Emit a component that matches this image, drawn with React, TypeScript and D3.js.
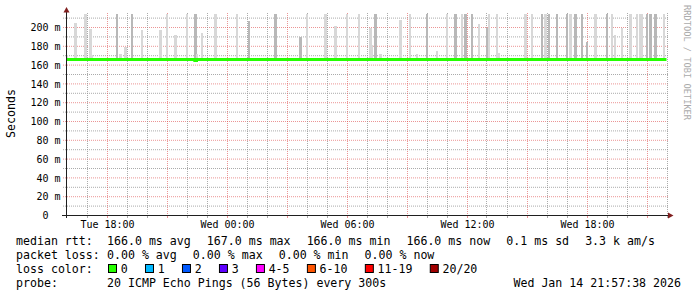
import React from "react";
import * as d3 from "d3";

// ---- data ----
const startTime = Date.UTC(2026, 0, 13, 16, 0, 0);
const spanHours = 30;
const stepMinutes = 5;
const stepCount = 360;

// smoke spikes (5-minute step index, highest ping in ms, shade)
const smokeStep = [0, 5, 11, 14, 15, 30, 32, 35, 39, 45, 56, 60, 65, 72, 77, 78, 81, 89, 102, 109, 125, 140, 144, 155, 161, 168, 175, 182, 183, 185, 188, 200, 206, 210, 216, 222, 228, 233, 237, 239, 243, 247, 252, 253, 258, 259, 275, 279, 285, 287, 289, 294, 300, 302, 305, 309, 312, 317, 324, 327, 329, 333, 338, 342, 344, 345, 348, 350, 353, 358];
const smokeTop = [171, 205, 215, 198, 171, 215, 172, 179, 215, 197, 197, 215, 192, 215, 215, 172, 194, 215, 215, 207, 215, 190, 215, 215, 202, 215, 215, 200, 181, 215, 172, 208, 215, 172, 215, 175, 215, 215, 215, 215, 215, 204, 200, 215, 215, 173, 215, 215, 215, 215, 215, 215, 215, 215, 215, 215, 185, 215, 215, 215, 192, 200, 215, 215, 215, 215, 215, 215, 215, 215];
const smokeShade = ["l", "l", "l", "l", "l", "d", "l", "l", "d", "l", "l", "l", "l", "l", "d", "l", "l", "l", "l", "d", "d", "d", "l", "l", "l", "l", "l", "l", "l", "d", "l", "l", "l", "l", "d", "l", "l", "d", "l", "d", "d", "l", "d", "l", "l", "l", "l", "l", "d", "l", "d", "d", "d", "l", "d", "d", "d", "l", "d", "l", "l", "l", "l", "l", "l", "l", "d", "d", "d", "l"];
const smokeBase = 166;

// median rtt in runs (start step, value ms)
const medianRunStart = [0, 77, 78];
const medianRunValue = [166.0, 165.0, 166.0];

const yTicks = [0, 20, 40, 60, 80, 100, 120, 140, 160, 180, 200];
const yMinor = [10, 30, 50, 70, 90, 110, 130, 150, 170, 190, 210];

const rttLabel = "median rtt:";
const rttItems = ["166.0 ms avg", "167.0 ms max", "166.0 ms min", "166.0 ms now", "0.1 ms sd", "3.3 k am/s"];
const lossLabel = "packet loss:";
const lossItems = ["0.00 % avg", "0.00 % max", "0.00 % min", "0.00 % now"];
const colorLabel = "loss color:";
const lossColorNames = ["0", "1", "2", "3", "4-5", "6-10", "11-19", "20/20"];
const lossColorValues = ["#26ff00", "#00b8ff", "#0059ff", "#5e00ff", "#ff00ff", "#ff5500", "#ff0000", "#a10000"];
const probeLabel = "probe:";
const probeText = "20 ICMP Echo Pings (56 Bytes) every 300s";
const dateText = "Wed Jan 14 21:57:38 2026";
const yTitle = "Seconds";
const watermark = "RRDTOOL / TOBI OETIKER";

// ---- layout ----
const W = 697, H = 297;
const plotLeft = 66.5, plotRight = 666.5, plotTop = 14, plotBottom = 215.5;
const mono = "'DejaVu Sans Mono', monospace";
const legendSize = 11.6;
const charW = 6.985;
const col2 = 107;
const gap = 16;

export default function App() {
  const endTime = startTime + spanHours * 3600 * 1000;
  const x = d3.scaleUtc().domain([new Date(startTime), new Date(endTime)]).range([plotLeft, plotRight]);
  const y = d3.scaleLinear().domain([0, 200]).range([plotBottom, 27.5]);
  const stepMs = stepMinutes * 60 * 1000;
  const tAt = (i: number) => new Date(startTime + i * stepMs);

  const hours = d3.utcHour.range(new Date(startTime + 1), new Date(endTime + 1));
  const fmt = d3.utcFormat("%a %H:%M");

  const medianPts: [number, number][] = [];
  for (let i = 0; i <= stepCount; i++) {
    let v = medianRunValue[0];
    for (let r = 0; r < medianRunStart.length; r++) if (i >= medianRunStart[r]) v = medianRunValue[r];
    medianPts.push([x(tAt(i)), y(v)]);
  }
  const medianPath = d3.line().curve(d3.curveStepAfter)(medianPts) || "";

  const gridColor = "rgba(143,143,143,0.75)";
  const mgridColor = "rgba(222,79,79,0.6)";
  const axisColor = "rgb(31,31,31)";
  const arrowColor = "rgb(128,31,31)";

  const itemsX = (start: number, items: string[], extra = 0) => {
    const xs: number[] = [];
    let cx = start;
    for (const it of items) {
      xs.push(cx);
      cx += extra + it.length * charW + gap;
    }
    return xs;
  };
  const rttX = itemsX(col2, rttItems);
  const lossX = itemsX(col2, lossItems);
  const colX = itemsX(col2, lossColorNames, 14);

  return (
    <svg width={W} height={H} style={{ position: "absolute", left: 0, top: 0, background: "#fff" }}>
      <defs>
        <clipPath id="plotclip">
          <rect x={plotLeft} y={plotTop} width={plotRight - plotLeft + 1} height={plotBottom - plotTop} />
        </clipPath>
      </defs>
      <rect width={W} height={H} fill="#fff" />

      {yMinor.map((v) => (
        <line key={"hm" + v} x1={63} x2={669} y1={y(v)} y2={y(v)} stroke={gridColor} strokeDasharray="1,1" />
      ))}
      {yTicks.filter((v) => v > 0).map((v) => (
        <line key={"hM" + v} x1={63} x2={669} y1={y(v)} y2={y(v)} stroke={mgridColor} strokeDasharray="1,1" />
      ))}
      {hours.map((h) => {
        const hx = Math.round(x(h)) + 0.5;
        const major = h.getUTCHours() % 3 === 0;
        return (
          <g key={"v" + h.getTime()}>
            <line x1={hx} x2={hx} y1={13} y2={215} stroke={major ? mgridColor : gridColor} strokeDasharray="1,1" />
            <line x1={hx} x2={hx} y1={216} y2={218} stroke={major ? mgridColor : gridColor} />
          </g>
        );
      })}

      <g clipPath="url(#plotclip)">
        {smokeStep.map((s, k) => {
          const x0 = Math.floor(x(tAt(s)));
          const x1 = Math.max(x0 + 2, Math.round(x(tAt(s + 1))));
          const yt = Math.round(y(smokeTop[k]));
          const yb = y(smokeBase);
          return (
            <rect key={"s" + k} x={x0} width={x1 - x0} y={yt} height={yb - yt} shapeRendering="crispEdges"
              fill={smokeShade[k] === "d" ? "#b8b8b8" : "#d8d8d8"} />
          );
        })}
        <path d={medianPath} fill="none" stroke={lossColorValues[0]} strokeWidth={3} />
      </g>

      <line x1={62} x2={669} y1={215.5} y2={215.5} stroke={axisColor} />
      <path d="M668,212.5 L673.5,215.5 L668,218.5 Z" fill={arrowColor} />
      <line x1={66.5} x2={66.5} y1={12} y2={218} stroke={axisColor} />
      <path d="M63.5,12.5 L66.5,7 L69.5,12.5 Z" fill={arrowColor} />

      {yTicks.map((v) => (
        <text key={"yl" + v} x={v === 0 ? 60.5 - 2 * 6.02 : 60.5} y={y(v) + 3.6} textAnchor="end"
          fontFamily={mono} fontSize={10} fill="#000">
          {v === 0 ? "0" : `${v} m`}
        </text>
      ))}
      {hours.filter((h) => h.getUTCHours() % 6 === 0).map((h) => (
        <text key={"xl" + h.getTime()} x={Math.round(x(h)) + 0.5} y={228} textAnchor="middle"
          fontFamily={mono} fontSize={10} fill="#000">
          {fmt(h)}
        </text>
      ))}

      <text transform="translate(15,113.5) rotate(-90)" textAnchor="middle" fontFamily={mono} fontSize={legendSize} fill="#000">
        {yTitle}
      </text>
      <text transform="translate(684,5) rotate(90)" textAnchor="start" fontFamily={mono} fontSize={8.7} fill="#aaa">
        {watermark}
      </text>

      <g fontFamily={mono} fontSize={legendSize} fill="#000" style={{ whiteSpace: "pre" }}>
        <text x={16} y={245}>{rttLabel}</text>
        {rttItems.map((t, i) => (
          <text key={"r" + i} x={rttX[i]} y={245}>{t}</text>
        ))}
        <text x={16} y={259}>{lossLabel}</text>
        {lossItems.map((t, i) => (
          <text key={"p" + i} x={lossX[i]} y={259}>{t}</text>
        ))}
        <text x={16} y={273}>{colorLabel}</text>
        {lossColorNames.map((t, i) => (
          <g key={"c" + i}>
            <rect x={colX[i] + 1.5} y={264.5} width={8} height={8} fill={lossColorValues[i]} stroke="#000" />
            <text x={colX[i] + 13.7} y={273}>{t}</text>
          </g>
        ))}
        <text x={16} y={287}>{probeLabel}</text>
        <text x={col2} y={287}>{probeText}</text>
        <text x={681} y={287} textAnchor="end">{dateText}</text>
      </g>
    </svg>
  );
}
